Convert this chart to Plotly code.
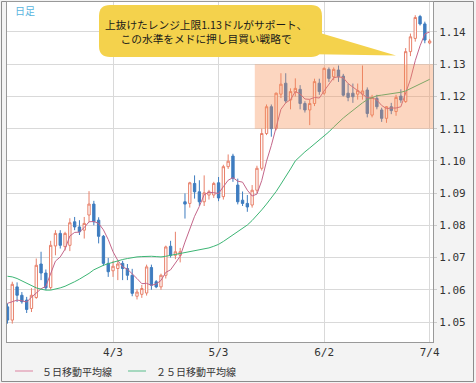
import plotly.graph_objects as go

# ---------------- data ----------------
dates = ["3/2","3/3","3/6","3/7","3/8","3/9","3/10","3/13","3/14","3/15","3/16","3/17",
         "3/20","3/21","3/22","3/23","3/24","3/27","3/28","3/29","3/30","3/31",
         "4/3","4/4","4/5","4/6","4/7","4/10","4/11","4/12","4/13","4/14","4/17","4/18",
         "4/19","4/20","4/21","4/24","4/25","4/26","4/27","4/28",
         "5/1","5/2","5/3","5/4","5/5","5/8","5/9","5/10","5/11","5/12","5/15","5/16",
         "5/17","5/18","5/19","5/22","5/23","5/24","5/25","5/26","5/29","5/30","5/31",
         "6/1","6/2","6/5","6/6","6/7","6/8","6/9","6/12","6/13","6/14","6/15","6/16",
         "6/19","6/20","6/21","6/22","6/23","6/26","6/27","6/28","6/29","6/30",
         "7/3","7/4"]

opens = [1.0547,1.0506,1.0609,1.0583,1.0568,1.0542,1.0576,1.0680,1.0652,1.0607,1.0736,1.0775,
         1.0734,1.0738,1.0811,1.0795,1.0785,1.0832,1.0866,1.0816,1.0766,1.0682,
         1.0659,1.0666,1.0682,1.0666,1.0645,1.0580,1.0586,1.0590,1.0669,1.0625,1.0609,1.0645,
         1.0735,1.0707,1.0707,1.0873,1.0868,1.0930,1.0904,1.0873,
         1.0894,1.0894,1.0932,1.0889,1.0982,1.1015,1.0925,1.0878,1.0868,1.0863,1.0909,1.0977,
         1.1085,1.1168,1.1101,1.1207,1.1241,1.1189,1.1213,1.1222,1.1178,1.1158,1.1178,
         1.1241,1.1210,1.1284,1.1261,1.1282,1.1263,1.1210,1.1210,1.1207,1.1207,1.1220,1.1142,
         1.1194,1.1158,1.1132,1.1168,1.1153,1.1201,1.1184,1.1339,1.1380,1.1448,
         1.1425,1.1366]
highs = [1.0558,1.0625,1.0623,1.0593,1.0578,1.0605,1.0697,1.0718,1.0663,1.0752,1.0785,1.0785,
         1.0780,1.0822,1.0826,1.0816,1.0826,1.0906,1.0876,1.0825,1.0770,1.0699,
         1.0690,1.0690,1.0690,1.0680,1.0665,1.0602,1.0615,1.0678,1.0678,1.0630,1.0650,1.0737,
         1.0752,1.0780,1.0730,1.0899,1.0935,1.0955,1.0940,1.0955,
         1.0910,1.0935,1.0950,1.0988,1.1020,1.1022,1.0945,1.0905,1.0894,1.0925,1.0985,1.1100,
         1.1175,1.1175,1.1212,1.1272,1.1272,1.1225,1.1256,1.1235,1.1185,1.1190,1.1255,
         1.1255,1.1290,1.1290,1.1290,1.1296,1.1270,1.1240,1.1240,1.1240,1.1296,1.1228,1.1205,
         1.1205,1.1165,1.1170,1.1180,1.1205,1.1222,1.1350,1.1395,1.1452,1.1453,
         1.1432,1.1378]
lows = [1.0495,1.0495,1.0562,1.0557,1.0528,1.0531,1.0572,1.0630,1.0599,1.0600,1.0707,1.0728,
        1.0722,1.0720,1.0785,1.0770,1.0759,1.0810,1.0800,1.0744,1.0674,1.0640,
        1.0640,1.0630,1.0630,1.0630,1.0580,1.0570,1.0575,1.0582,1.0600,1.0605,1.0600,1.0635,
        1.0700,1.0695,1.0685,1.0821,1.0855,1.0883,1.0860,1.0860,
        1.0880,1.0885,1.0875,1.0880,1.0975,1.0935,1.0865,1.0860,1.0842,1.0855,1.0900,1.0970,
        1.1080,1.1075,1.1095,1.1195,1.1180,1.1160,1.1200,1.1160,1.1150,1.1111,1.1170,
        1.1205,1.1205,1.1245,1.1250,1.1245,1.1200,1.1185,1.1180,1.1190,1.1190,1.1135,1.1135,
        1.1160,1.1121,1.1118,1.1145,1.1140,1.1180,1.1180,1.1325,1.1370,1.1420,
        1.1365,1.1362]
closes = [1.0506,1.0617,1.0583,1.0563,1.0539,1.0583,1.0676,1.0652,1.0606,1.0738,1.0775,1.0738,
          1.0775,1.0808,1.0795,1.0780,1.0806,1.0866,1.0811,1.0766,1.0682,1.0656,
          1.0673,1.0680,1.0666,1.0645,1.0589,1.0593,1.0604,1.0671,1.0614,1.0609,1.0645,1.0733,
          1.0707,1.0718,1.0718,1.0866,1.0932,1.0904,1.0873,1.0901,
          1.0904,1.0930,1.0885,1.0982,1.0999,1.0946,1.0873,1.0868,1.0857,1.0909,1.0977,1.1085,
          1.1168,1.1100,1.1210,1.1238,1.1186,1.1215,1.1225,1.1178,1.1158,1.1178,1.1246,
          1.1215,1.1287,1.1256,1.1284,1.1261,1.1204,1.1197,1.1199,1.1218,1.1217,1.1147,1.1197,
          1.1168,1.1132,1.1168,1.1156,1.1197,1.1189,1.1339,1.1385,1.1445,1.1425,
          1.1375,1.1372]

ma5 = [1.0558,1.0564,1.0568,1.0566,1.0562,1.0577,1.0589,1.0603,1.0611,1.0651,1.0689,1.0702,
       1.0726,1.0767,1.0778,1.0779,1.0793,1.0811,1.0812,1.0806,1.0786,1.0756,
       1.0718,1.0691,1.0671,1.0664,1.0651,1.0635,1.0619,1.0620,1.0614,1.0618,1.0629,1.0654,
       1.0662,1.0682,1.0704,1.0748,1.0788,1.0828,1.0859,1.0895,
       1.0903,1.0902,1.0899,1.0920,1.0940,1.0948,1.0937,1.0934,1.0909,1.0891,1.0897,1.0939,
       1.0999,1.1048,1.1108,1.1160,1.1180,1.1190,1.1215,1.1208,1.1192,1.1191,1.1197,
       1.1195,1.1217,1.1236,1.1258,1.1261,1.1258,1.1240,1.1229,1.1216,1.1207,1.1196,1.1196,
       1.1189,1.1172,1.1162,1.1164,1.1164,1.1168,1.1210,1.1253,1.1311,1.1357,
       1.1394,1.1400]

ma25 = [1.0642,1.0640,1.0635,1.0628,1.0620,1.0612,1.0606,1.0602,1.0599,1.0599,1.0602,1.0606,
        1.0611,1.0617,1.0625,1.0633,1.0641,1.0651,1.0662,1.0670,1.0676,1.0681,
        1.0686,1.0690,1.0694,1.0697,1.0700,1.0702,1.0703,1.0704,1.0704,1.0703,1.0702,1.0704,
        1.0707,1.0710,1.0713,1.0716,1.0719,1.0721,1.0723,1.0726,
        1.0730,1.0735,1.0741,1.0750,1.0760,1.0770,1.0780,1.0790,1.0801,1.0815,1.0830,1.0848,
        1.0866,1.0885,1.0905,1.0928,1.0950,1.0975,1.1000,1.1015,1.1028,1.1040,1.1052,
        1.1063,1.1076,1.1090,1.1105,1.1120,1.1133,1.1145,1.1157,1.1168,1.1180,1.1190,1.1197,
        1.1202,1.1204,1.1206,1.1208,1.1210,1.1213,1.1217,1.1224,1.1232,1.1240,
        1.1247,1.1253]

tick_dates = ["4/3", "5/3", "6/2", "7/4"]
range_low, range_high = 1.11, 1.13
range_start = "5/15"

legend_names = ["５日移動平均線", "２５日移動平均線"]
callout_lines = ["上抜けたレンジ上限1.13ドルがサポート、", "この水準をメドに押し目買い戦略で"]
corner_label = "日足"

# ---------------- figure ----------------
W, H = 476, 383
L, R, T, B = 7, 43, 2, 41
PW, PH = W - L - R, H - T - B

def px(x):
    return (x - L) / PW

def py(y):
    return (H - B - y) / PH

C_UP = "#e8806a"
C_DN = "#3e7cbf"
C_MA5 = "#c4668a"
C_MA25 = "#3cb574"
MONO = "DejaVu Sans Mono"
JP = "Noto Sans CJK JP"

fig = go.Figure()
fig.add_trace(go.Candlestick(
    x=dates, open=opens, high=highs, low=lows, close=closes,
    increasing=dict(line=dict(color=C_UP, width=1), fillcolor="#ffffff"),
    decreasing=dict(line=dict(color=C_DN, width=1), fillcolor=C_DN),
    whiskerwidth=0, hoverinfo="skip", showlegend=False))
fig.add_trace(go.Scatter(x=dates, y=ma5, mode="lines", name=legend_names[0],
                         line=dict(color=C_MA5, width=1), hoverinfo="skip", showlegend=False))
fig.add_trace(go.Scatter(x=dates, y=ma25, mode="lines", name=legend_names[1],
                         line=dict(color=C_MA25, width=1), hoverinfo="skip", showlegend=False))

shapes = []
# range box (drawn over candles, translucent)
i0 = dates.index(range_start) - 0.45
shapes.append(dict(type="rect", xref="x", yref="y", x0=i0, x1=len(dates) - 0.3,
                   y0=range_low, y1=range_high, fillcolor="rgba(246,140,80,0.36)",
                   line=dict(width=0), layer="above"))

# callout bubble
def rrect(x0, y0, x1, y1, r):
    return ("M {a},{b} L {c},{b} Q {d},{b} {d},{e} L {d},{f} Q {d},{g} {c},{g} "
            "L {a},{g} Q {h},{g} {h},{f} L {h},{e} Q {h},{b} {a},{b} Z").format(
        a=px(x0 + r), b=py(y0), c=px(x1 - r), d=px(x1), e=py(y0 + r),
        f=py(y1 - r), g=py(y1), h=px(x0))

YEL = "#f4d24c"
shapes.append(dict(type="path", xref="paper", yref="paper",
                   path=rrect(99, 5, 322, 57, 11), fillcolor=YEL, line=dict(width=0)))
shapes.append(dict(type="path", xref="paper", yref="paper",
                   path="M {},{} L {},{} L {},{} Z".format(px(300), py(27), px(396), py(55.5),
                                                          px(300), py(54)),
                   fillcolor=YEL, line=dict(width=0)))

# legend lines
shapes.append(dict(type="line", xref="paper", yref="paper", x0=px(15), x1=px(33),
                   y0=py(371), y1=py(371), line=dict(color="#e4a8bc", width=1.5)))
shapes.append(dict(type="line", xref="paper", yref="paper", x0=px(128), x1=px(146),
                   y0=py(371), y1=py(371), line=dict(color="#8ccfae", width=1.5)))
# outer frame
shapes.append(dict(type="rect", xref="paper", yref="paper", x0=px(1.5), x1=px(473.5),
                   y0=py(1.5), y1=py(381.5), line=dict(color="#8c8c8c", width=1),
                   fillcolor="rgba(0,0,0,0)", layer="below"))

annotations = [
    dict(xref="paper", yref="paper", x=px(206), y=py(31),
         text="<br>".join(callout_lines),
         showarrow=False, xanchor="center", yanchor="middle", align="center",
         font=dict(family=JP, size=10.7, color="#1a1a1a")),
    dict(xref="paper", yref="paper", x=px(13), y=py(10), text=corner_label,
         showarrow=False, xanchor="left", yanchor="middle",
         font=dict(family=JP, size=10, color="#5ab4de")),
    dict(xref="paper", yref="paper", x=px(40), y=py(371), text=legend_names[0],
         showarrow=False, xanchor="left", yanchor="middle",
         font=dict(family=JP, size=10, color="#333333")),
    dict(xref="paper", yref="paper", x=px(154), y=py(371), text=legend_names[1],
         showarrow=False, xanchor="left", yanchor="middle",
         font=dict(family=JP, size=10, color="#333333")),
]

fig.update_layout(
    width=W, height=H, margin=dict(l=L, r=R, t=T, b=B),
    paper_bgcolor="#f3f3f3", plot_bgcolor="#ffffff",
    shapes=shapes, annotations=annotations, showlegend=False,
    xaxis=dict(type="category", range=[-0.1, len(dates) - 0.3],
               rangeslider=dict(visible=False),
               tickvals=tick_dates, ticktext=tick_dates,
               showgrid=True, gridcolor="#d9d9d9", gridwidth=1,
               showline=True, linecolor="#999999", mirror=True,
               ticks="", tickfont=dict(family=MONO, size=11, color="#333333")),
    yaxis=dict(side="right", range=[1.0438, 1.1493], dtick=0.01, tick0=1.05,
               tickformat=".2f", showgrid=True, gridcolor="#d9d9d9", gridwidth=1,
               showline=True, linecolor="#999999", mirror=True,
               ticks="outside", ticklen=3, tickcolor="#cccccc",
               tickfont=dict(family=MONO, size=11, color="#333333")),
)

fig.write_html("out.html", config={"displayModeBar": False, "staticPlot": True},
               post_script="document.body.style.margin='0';document.body.style.overflow='hidden';")
